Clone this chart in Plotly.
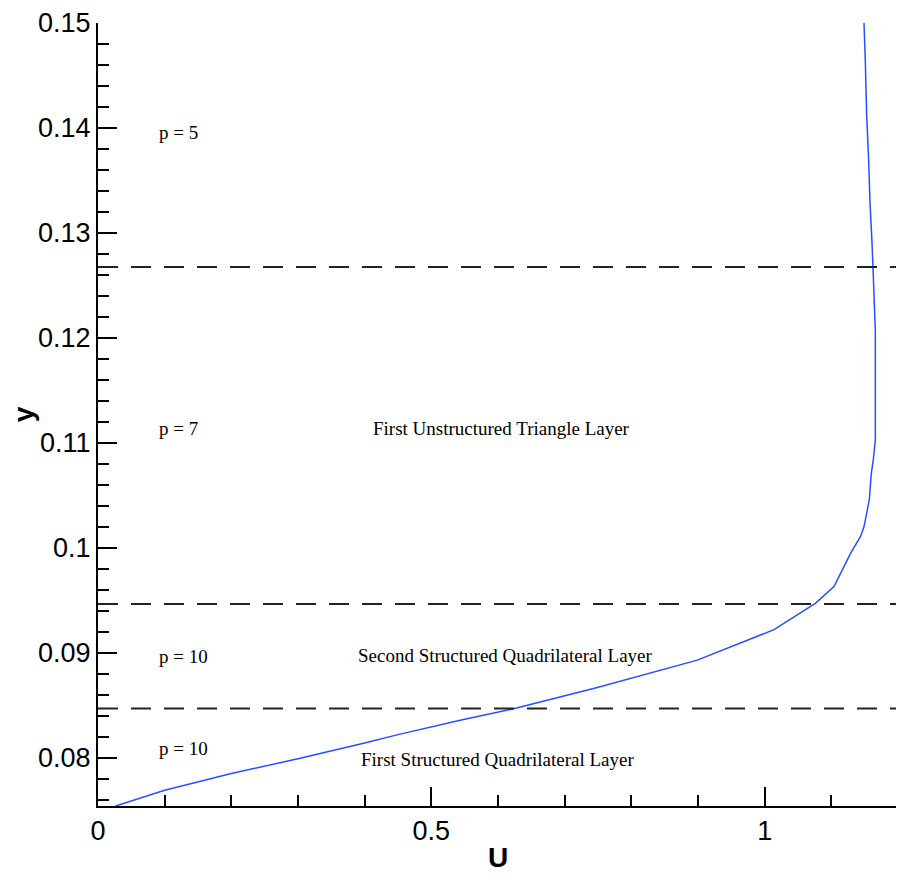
import plotly.graph_objects as go

# Velocity profile U(y)
u_values = [0.0265, 0.10, 0.20, 0.30, 0.40, 0.45, 0.545, 0.619, 0.749, 0.824,
            0.899, 1.014, 1.076, 1.104, 1.129, 1.144, 1.149, 1.157, 1.160, 1.163,
            1.166, 1.166, 1.164, 1.1625, 1.161, 1.158, 1.156, 1.153, 1.151, 1.149]
y_values = [0.0754, 0.0769, 0.0785, 0.0799, 0.0814, 0.0822, 0.0836, 0.0846, 0.0867, 0.0880,
            0.0893, 0.0922, 0.0947, 0.0963, 0.0995, 0.1011, 0.1020, 0.1046, 0.1071, 0.1084,
            0.1103, 0.1206, 0.1254, 0.1267, 0.1291, 0.1329, 0.1369, 0.1412, 0.1463, 0.1500]

# Layer interfaces (dashed lines)
layer_interfaces = [0.0847, 0.09465, 0.12675]

# Region labels
p_labels = ["p = 5", "p = 7", "p = 10", "p = 10"]
p_label_y = [0.1396, 0.1114, 0.0896, 0.0809]
layer_names = ["First Unstructured Triangle Layer", "Second Structured Quadrilateral Layer",
               "First Structured Quadrilateral Layer"]
layer_name_y = [0.1114, 0.0897, 0.0798]
layer_name_x = [0.605, 0.611, 0.599]

fig = go.Figure()
fig.add_trace(go.Scatter(x=u_values, y=y_values, mode="lines",
                         line=dict(color="#2450ff", width=1.5), showlegend=False))

for yi in layer_interfaces:
    fig.add_shape(type="line", xref="paper", x0=0, x1=1, yref="y", y0=yi, y1=yi,
                  line=dict(color="#222222", width=2, dash="20px,13px"))

serif = dict(family="Liberation Serif", size=19, color="black")
for t, yy in zip(p_labels, p_label_y):
    fig.add_annotation(x=0.088, y=yy, text=t, showarrow=False, xanchor="left",
                       yanchor="middle", font=serif)
for t, xx, yy in zip(layer_names, layer_name_x, layer_name_y):
    fig.add_annotation(x=xx, y=yy, text=t, showarrow=False, xanchor="center",
                       yanchor="middle", font=serif)

tickfont = dict(family="Liberation Sans", size=27, color="black")
fig.update_layout(
    width=896, height=873,
    margin=dict(l=90, r=6, t=15, b=75),
    paper_bgcolor="white", plot_bgcolor="white",
    xaxis=dict(range=[0, 1.2], tick0=0, dtick=0.5, ticks="inside", ticklen=19,
               tickwidth=1.5, tickcolor="black", showline=True, linecolor="black",
               linewidth=2, showgrid=False, zeroline=False, tickfont=tickfont,
               automargin=False,
               minor=dict(dtick=0.1, tick0=0, ticks="inside", ticklen=11,
                          tickwidth=1.5, tickcolor="black", showgrid=False),
               title=dict(text="<b>U</b>", font=dict(family="Liberation Sans", size=28,
                                                      color="black"), standoff=2)),
    yaxis=dict(range=[0.0754, 0.15], tick0=0, dtick=0.01, ticks="inside", ticklen=19,
               tickwidth=1.5, tickcolor="black", showline=True, linecolor="black",
               linewidth=2, showgrid=False, zeroline=False, tickfont=tickfont,
               automargin=False,
               minor=dict(dtick=0.002, tick0=0, ticks="inside", ticklen=11,
                          tickwidth=1.5, tickcolor="black", showgrid=False),
               title=dict(text="<b>y</b>", font=dict(family="Liberation Sans", size=28,
                                                      color="black"), standoff=2)),
)

fig.write_html("out.html")
